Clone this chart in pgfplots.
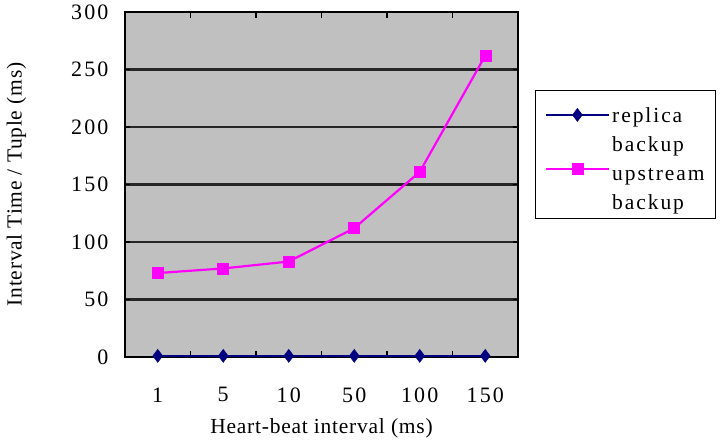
\documentclass[border=0pt]{standalone}
\usepackage{fontspec}
\setmainfont{Liberation Serif}[LetterSpace=3.5]
\newfontfamily\legendfont{Liberation Serif}[LetterSpace=9]
\newfontfamily\tickfont{Liberation Serif}[LetterSpace=10]
\usepackage{pgfplots}
\pgfplotsset{compat=1.18}
\definecolor{plotgray}{HTML}{C0C0C0}
\definecolor{navy}{HTML}{000080}
\definecolor{magentaX}{HTML}{FF00FF}
\newcommand\lsa{\rule[-5pt]{0pt}{30pt}}
\newcommand\lsb{\rule[-5pt]{0pt}{20pt}}
\begin{document}
\begin{tikzpicture}[font=\fontsize{21.5}{26}\selectfont]
\path[use as bounding box] (-125pt,-84pt) rectangle (601pt,357pt);
\begin{axis}[
  scale only axis, width=393pt, height=345pt,
  at={(0pt,0pt)}, anchor=south west,
  xmin=-0.5, xmax=5.5, ymin=0, ymax=300,
  xtick={0,1,2,3,4,5}, xticklabels={1,5,10,50,100,150},
  major x tick style={draw=none},
  minor xtick={0.5,1.5,2.5,3.5,4.5},
  minor tick length=6pt,
  minor x tick style={black, line width=1.2pt},
  ytick={0,50,...,300},
  major tick length=5pt,
  y tick style={black, line width=1.2pt},
  ymajorgrids,
  grid style={black!85, line width=2.2pt},
  axis background/.style={fill=plotgray},
  axis line style={black, line width=2.2pt},
  /pgf/number format/assume math mode=true,
  ticklabel style={font=\tickfont\fontsize{22}{26}\selectfont},
  xticklabel style={yshift=-27pt},
  yticklabel style={xshift=-13pt},
  xlabel={Heart-beat interval (ms)},
  ylabel={Interval Time / Tuple (ms)},
  xlabel style={yshift=-9pt},
  ylabel style={yshift=38pt},
  legend style={at={(rel axis cs:1.043,0.774)}, anchor=north west,
    draw=black, line width=1.4pt, fill=white,
    font=\legendfont\fontsize{21.5}{26}\selectfont,
    inner xsep=9pt, inner ysep=5pt, row sep=8pt,
    cells={inner xsep=3pt, inner ysep=2pt}},
  legend cell align=left,
]
\addplot[navy, line width=2.6pt, mark=diamond*, mark size=6.5pt,
  mark options={fill=navy, draw=navy, line width=0.5pt},
  legend image code/.code={
    \path (0pt,-8pt) (63pt,8pt);
    \draw[line width=2.2pt, mark repeat=2,mark phase=2] plot coordinates {(0pt,-4pt) (31.5pt,-4pt) (63pt,-4pt)};
  }]
  coordinates {(0,1) (1,1) (2,1) (3,1) (4,1) (5,1)};
\addlegendentry{\lsa replica}
\addlegendimage{empty legend}
\addlegendentry{\lsb backup}
\addplot[magentaX, line width=2.2pt, mark=square*, mark size=5.5pt,
  mark options={fill=magentaX, draw=magentaX, line width=0.5pt},
  legend image code/.code={
    \path (0pt,-10pt) (63pt,10pt);
    \draw[line width=2.2pt, mark repeat=2,mark phase=2] plot coordinates {(0pt,5pt) (31.5pt,5pt) (63pt,5pt)};
  }]
  coordinates {(0,73) (1,77) (2,83) (3,112) (4,161) (5,262)};
\addlegendentry{\lsb upstream}
\addlegendimage{empty legend}
\addlegendentry{\lsb backup}
\end{axis}
\end{tikzpicture}
\end{document}
